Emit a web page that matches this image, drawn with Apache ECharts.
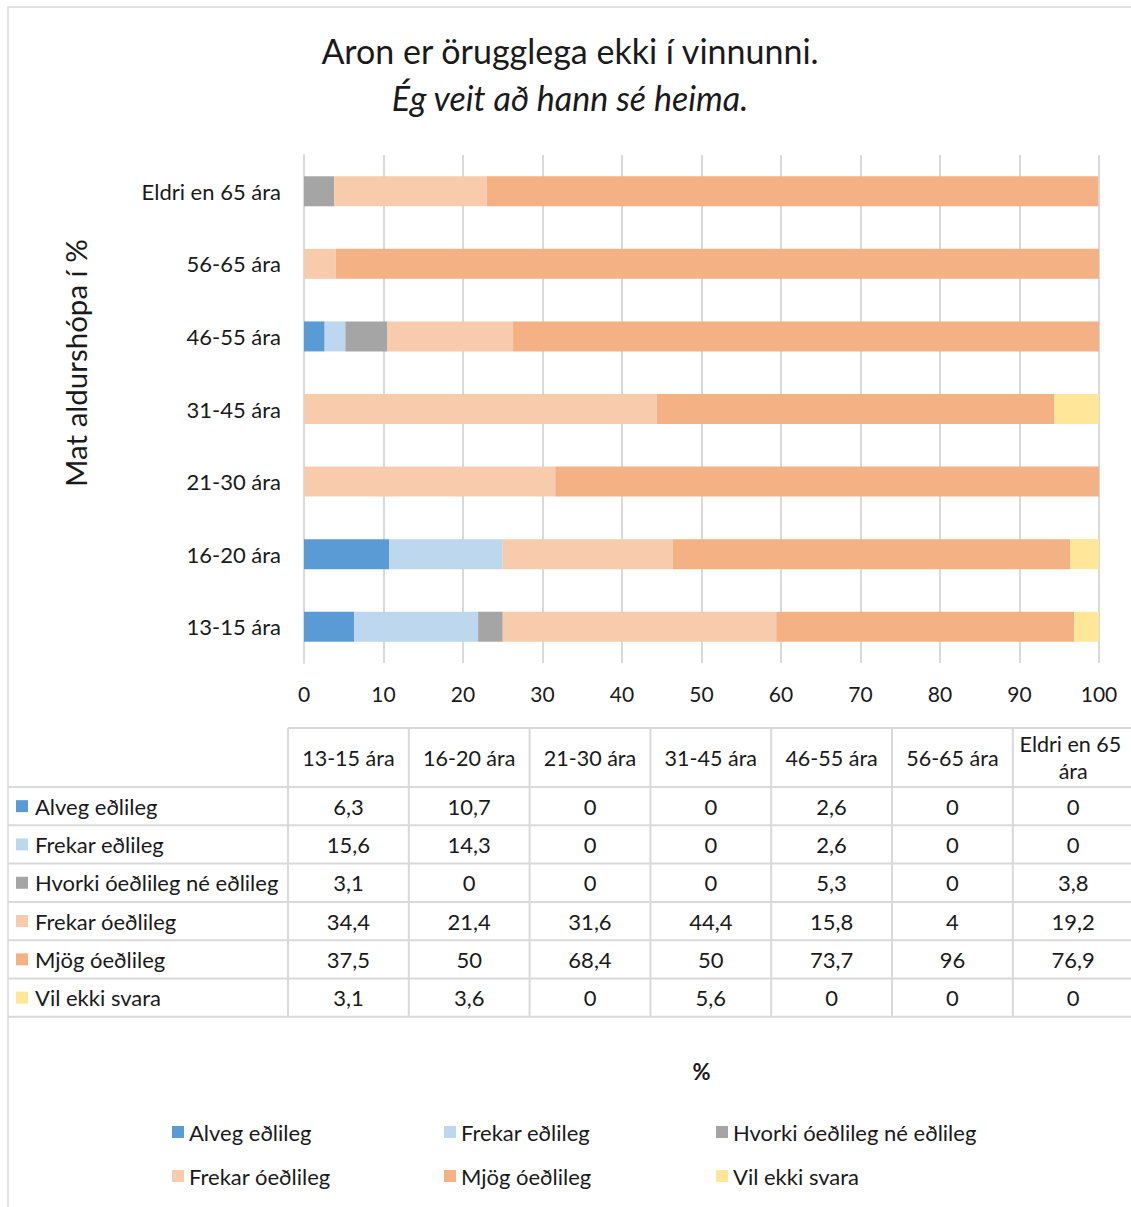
<!DOCTYPE html>
<html>
<head>
<meta charset="utf-8">
<script src="https://cdn.jsdelivr.net/npm/echarts@6/dist/echarts.min.js"></script>
<style>
  html, body { margin: 0; padding: 0; background: #fff; }
  #chart { width: 1131px; height: 1207px; }
</style>
</head>
<body>
<div id="chart"></div>
<script>
// Age groups (bottom to top on the chart, left to right in the table)
const categories = ['13-15 ára', '16-20 ára', '21-30 ára', '31-45 ára', '46-55 ára', '56-65 ára', 'Eldri en 65 ára'];

// Answer options
const seriesNames = ['Alveg eðlileg', 'Frekar eðlileg', 'Hvorki óeðlileg né eðlileg', 'Frekar óeðlileg', 'Mjög óeðlileg', 'Vil ekki svara'];
const seriesColors = ['#5B9BD5', '#BDD7EE', '#A5A5A5', '#F8CBAD', '#F4B183', '#FFE699'];

// Percentages per age group
const alvegEdlileg = [6.3, 10.7, 0, 0, 2.6, 0, 0];
const frekarEdlileg = [15.6, 14.3, 0, 0, 2.6, 0, 0];
const hvorki = [3.1, 0, 0, 0, 5.3, 0, 3.8];
const frekarOedlileg = [34.4, 21.4, 31.6, 44.4, 15.8, 4, 19.2];
const mjogOedlileg = [37.5, 50, 68.4, 50, 73.7, 96, 76.9];
const vilEkkiSvara = [3.1, 3.6, 0, 5.6, 0, 0, 0];

const xTicks = { min: 0, max: 100, interval: 10 };

const seriesValues = [alvegEdlileg, frekarEdlileg, hvorki, frekarOedlileg, mjogOedlileg, vilEkkiSvara];

const FONT = 'Lato, "Open Sans", sans-serif';
const TEXT = '#1a1a1a';
const LINE = '#d9d9d9';

const chart = echarts.init(document.getElementById('chart'), null, { renderer: 'svg' });

// Data table underneath the plot
const tbl = { left: 8, colStart: 288, colW: 120.8, headTop: 728, headBottom: 787, rowH: 38.3, right: 1131 };
const graphics = [];

// frame around the whole chart
graphics.push({
  type: 'rect', silent: true,
  shape: { x: 8, y: 7, width: 1140, height: 1220 },
  style: { fill: 'none', stroke: LINE, lineWidth: 1.5 }
});

// y-axis title
graphics.push({
  type: 'text', x: 75, y: 363, rotation: Math.PI / 2,
  style: { text: 'Mat aldurshópa í %', font: '29.5px ' + FONT, fill: TEXT, align: 'center', verticalAlign: 'middle' }
});

const tableBottom = tbl.headBottom + tbl.rowH * seriesNames.length;
// header top rule
graphics.push({ type: 'line', silent: true, shape: { x1: tbl.colStart, y1: tbl.headTop, x2: tbl.right, y2: tbl.headTop }, style: { stroke: LINE, lineWidth: 2 } });
// row rules
for (let r = 0; r <= seriesNames.length; r++) {
  const y = tbl.headBottom + tbl.rowH * r;
  graphics.push({ type: 'line', silent: true, shape: { x1: tbl.left, y1: y, x2: tbl.right, y2: y }, style: { stroke: LINE, lineWidth: 2 } });
}
// column rules
for (let c = 0; c <= categories.length; c++) {
  const x = tbl.colStart + tbl.colW * c;
  graphics.push({ type: 'line', silent: true, shape: { x1: x, y1: tbl.headTop, x2: x, y2: tableBottom }, style: { stroke: LINE, lineWidth: 2 } });
}
// column headers
categories.forEach((cat, c) => {
  graphics.push({
    type: 'text',
    x: tbl.colStart + tbl.colW * (c + 0.5), y: (tbl.headTop + tbl.headBottom) / 2,
    style: { text: cat, font: '21.5px ' + FONT, fill: TEXT, align: 'center', verticalAlign: 'middle', width: 112, overflow: 'break', lineHeight: 27 }
  });
});
// row labels with colour keys, and values
seriesNames.forEach((name, r) => {
  const cy = tbl.headBottom + tbl.rowH * (r + 0.5);
  graphics.push({ type: 'rect', silent: true, shape: { x: 16, y: cy - 6, width: 12, height: 12 }, style: { fill: seriesColors[r] } });
  graphics.push({ type: 'text', x: 35, y: cy, style: { text: name, font: '22px ' + FONT, fill: TEXT, align: 'left', verticalAlign: 'middle' } });
  seriesValues[r].forEach((v, c) => {
    graphics.push({
      type: 'text', x: tbl.colStart + tbl.colW * (c + 0.5), y: cy,
      style: { text: String(v).replace('.', ','), font: '22px ' + FONT, fill: TEXT, align: 'center', verticalAlign: 'middle' }
    });
  });
});

// bottom legend: three columns of two entries
const legendCols = [172, 444, 716];
const legends = legendCols.map((x, c) => ({
  orient: 'vertical', left: x, top: 1120, itemGap: 20, itemWidth: 12, itemHeight: 12, icon: 'rect', padding: 0,
  selectedMode: false,
  data: [seriesNames[c], seriesNames[c + 3]],
  textStyle: { fontFamily: FONT, fontSize: 22, color: TEXT, lineHeight: 24 }
}));

chart.setOption({
  animation: false,
  backgroundColor: '#fff',
  color: seriesColors,
  title: [
    { text: 'Aron er örugglega ekki í vinnunni.', left: 570, top: 50, textAlign: 'center', textVerticalAlign: 'middle', padding: 0,
      textStyle: { fontFamily: FONT, fontSize: 34, fontWeight: 'normal', color: TEXT } },
    { text: 'Ég veit að hann sé heima.', left: 570, top: 97, textAlign: 'center', textVerticalAlign: 'middle', padding: 0,
      textStyle: { fontFamily: FONT, fontSize: 34, fontWeight: 'normal', fontStyle: 'italic', color: TEXT } }
  ],
  legend: legends,
  grid: { left: 304, top: 155, width: 795, height: 508, containLabel: false },
  xAxis: {
    type: 'value', min: xTicks.min, max: xTicks.max, interval: xTicks.interval,
    name: '%', nameLocation: 'middle', nameGap: 397,
    nameTextStyle: { fontFamily: FONT, fontSize: 22, fontWeight: 'bold', color: TEXT },
    axisLine: { show: false }, axisTick: { show: false },
    axisLabel: { fontFamily: FONT, fontSize: 21, color: TEXT, margin: 20 },
    splitLine: { lineStyle: { color: LINE, width: 2 } }
  },
  yAxis: {
    type: 'category', data: categories,
    axisLine: { show: true, lineStyle: { color: LINE, width: 2 } },
    axisTick: { show: false },
    axisLabel: { fontFamily: FONT, fontSize: 22, color: TEXT, margin: 23 }
  },
  series: seriesNames.map((name, i) => ({
    name, type: 'bar', stack: 'total', barWidth: 30,
    data: seriesValues[i],
    itemStyle: { color: seriesColors[i] },
    emphasis: { disabled: true }
  })),
  graphic: graphics
});
</script>
</body>
</html>
